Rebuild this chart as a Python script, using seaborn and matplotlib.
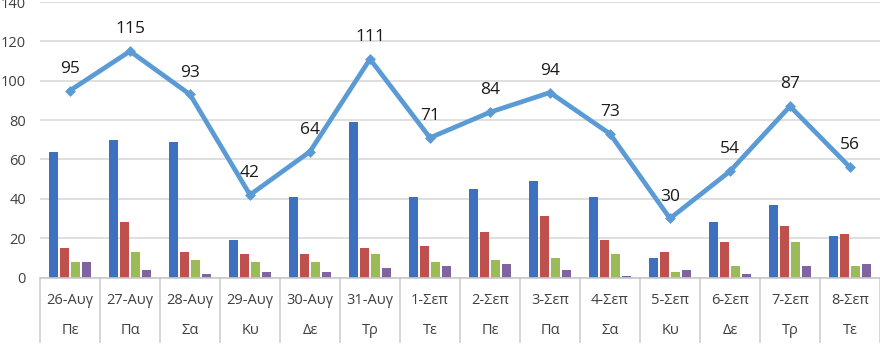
import matplotlib
matplotlib.use("Agg")
import matplotlib.pyplot as plt
import matplotlib.transforms as mtransforms
import numpy as np
import pandas as pd
import seaborn as sns

# Daily figures, 26 Aug - 8 Sep
dates = ["26-Αυγ", "27-Αυγ", "28-Αυγ", "29-Αυγ", "30-Αυγ", "31-Αυγ", "1-Σεπ",
         "2-Σεπ", "3-Σεπ", "4-Σεπ", "5-Σεπ", "6-Σεπ", "7-Σεπ", "8-Σεπ"]
days = ["Πε", "Πα", "Σα", "Κυ", "Δε", "Τρ", "Τε",
        "Πε", "Πα", "Σα", "Κυ", "Δε", "Τρ", "Τε"]

series_a = [64, 70, 69, 19, 41, 79, 41, 45, 49, 41, 10, 28, 37, 21]
series_b = [15, 28, 13, 12, 12, 15, 16, 23, 31, 19, 13, 18, 26, 22]
series_c = [8, 13, 9, 8, 8, 12, 8, 9, 10, 12, 3, 6, 18, 6]
series_d = [8, 4, 2, 3, 3, 5, 6, 7, 4, 1, 4, 2, 6, 7]
totals = [95, 115, 93, 42, 64, 111, 71, 84, 94, 73, 30, 54, 87, 56]

series_names = ["A", "B", "C", "D"]
bar_colors = ["#3F6FBF", "#C0504D", "#9BBB59", "#8064A2"]
line_color = "#5B9BD5"

bars = pd.DataFrame({
    "date": np.tile(dates, 4),
    "series": np.repeat(series_names, len(dates)),
    "value": series_a + series_b + series_c + series_d,
})
line = pd.DataFrame({"date": dates, "total": totals})

sns.set_theme(style="white")
plt.rcParams["font.family"] = ["Open Sans", "DejaVu Sans"]

fig = plt.figure(figsize=(8.8, 3.5), dpi=100)
ax = fig.add_axes([40 / 880, (350 - 277.5) / 350, 840 / 880, (275.5) / 350])

sns.barplot(data=bars, x="date", y="value", hue="series", order=dates,
            hue_order=series_names, palette=bar_colors, width=0.72, gap=0.15,
            saturation=1, legend=False, ax=ax, errorbar=None, linewidth=0)

sns.pointplot(data=line, x="date", y="total", order=dates, color=line_color,
              markers="D", markersize=3, linewidth=3.4, ax=ax, errorbar=None)

for i, t in enumerate(totals):
    ax.annotate(str(t), (i, t), xytext=(0, 10), textcoords="offset points",
                ha="center", va="bottom", fontsize=12.5, color="#1a1a1a")

ax.set_xlim(-0.5, len(dates) - 0.5)
ax.set_ylim(0, 140)
ax.set_yticks(range(0, 141, 20))
ax.yaxis.grid(True, color="#D9D9D9", linewidth=1.2)
ax.set_axisbelow(True)
ax.tick_params(axis="y", labelsize=10.5, colors="#404040", pad=10, length=0)
ax.set_xticks([])
ax.set_xlabel("")
ax.set_ylabel("")
for side in ["top", "right", "left"]:
    ax.spines[side].set_visible(False)
ax.spines["bottom"].set_color("#C8C8C8")
ax.spines["bottom"].set_linewidth(1.2)

# Two-level category axis: date row, weekday row, separators between groups
trans = mtransforms.blended_transform_factory(ax.transData, ax.transAxes)
ax_h = 275.5
for i, (d, w) in enumerate(zip(dates, days)):
    ax.text(i, -(300 - 277.5) / ax_h, d, transform=trans, ha="center",
            va="center", fontsize=10.5, color="#404040")
    ax.text(i, -(331 - 277.5) / ax_h, w, transform=trans, ha="center",
            va="center", fontsize=10.5, color="#404040")
ax.vlines(np.arange(len(dates) + 1) - 0.5, -(343 - 277.5) / ax_h, 0,
          transform=trans, colors="#D0D0D0", linewidth=1.2, clip_on=False)

fig.savefig("out.png", dpi=100)
